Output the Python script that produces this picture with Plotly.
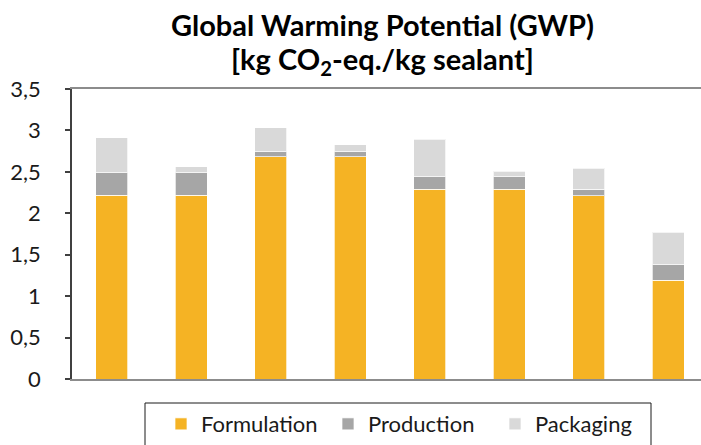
import plotly.graph_objects as go

categories = ["S1", "S2", "S3", "S4", "S5", "S6", "S7", "S8"]
formulation = [2.22, 2.22, 2.68, 2.68, 2.29, 2.29, 2.21, 1.19]
production = [0.27, 0.27, 0.065, 0.065, 0.15, 0.15, 0.08, 0.19]
packaging = [0.42, 0.07, 0.285, 0.085, 0.455, 0.07, 0.255, 0.39]
series_names = ["Formulation", "Production", "Packaging"]
colors = ["#F5B324", "#A6A6A6", "#D9D9D9"]

FONT = "Lato"

fig = go.Figure()
for name, vals, col in zip(series_names, [formulation, production, packaging], colors):
    fig.add_trace(go.Bar(
        x=categories, y=vals, name=name,
        marker=dict(color=col, line=dict(color="rgba(255,255,255,0.7)", width=1)),
    ))

fig.add_annotation(
    text="<b>Global Warming Potential (GWP)</b>",
    xref="paper", yref="paper", x=0.494, y=1.222, xanchor="center", yanchor="middle",
    showarrow=False, font=dict(size=29, family=FONT, color="#000000"),
)
fig.add_annotation(
    text="<b>[kg CO<sub>2</sub>-eq./kg sealant]</b>",
    xref="paper", yref="paper", x=0.494, y=1.098, xanchor="center", yanchor="middle",
    showarrow=False, font=dict(size=29, family=FONT, color="#000000"),
)

# legend frame (Excel-style box, bottom edge runs off the canvas)
fig.add_shape(
    type="rect", xref="paper", yref="paper",
    x0=(145 - 72) / 629, x1=(651 - 72) / 629,
    y0=-0.35, y1=-(403 - 379) / 290,
    line=dict(color="#1a1a1a", width=1), fillcolor="rgba(0,0,0,0)",
)

fig.update_layout(
    width=701, height=445,
    barmode="stack", bargap=0.6,
    separators=",.",
    plot_bgcolor="white", paper_bgcolor="white",
    margin=dict(l=72, r=0, t=89, b=66, autoexpand=False),
    font=dict(family=FONT, color="#1a1a1a"),
    xaxis=dict(
        range=[-0.5, 7.41], showticklabels=False, ticks="",
        showline=True, linecolor="#8c8c8c", linewidth=2, mirror=True,
        showgrid=False, zeroline=False, fixedrange=True,
    ),
    yaxis=dict(
        range=[0, 3.5], dtick=0.5, tick0=0,
        showline=True, linecolor="#404040", linewidth=1.5,
        ticks="outside", ticklen=5, tickcolor="#404040", tickwidth=1.5,
        ticklabelstandoff=20,
        tickfont=dict(size=22, family=FONT, color="#1a1a1a"),
        showgrid=False, zeroline=False,
    ),
    legend=dict(
        orientation="h", x=(161 - 72) / 629, xanchor="left", y=-0.083, yanchor="top",
        borderwidth=0, bgcolor="rgba(0,0,0,0)",
        entrywidth=122, entrywidthmode="pixels",
        font=dict(size=22, family=FONT, color="#1a1a1a"),
        traceorder="normal",
    ),
    showlegend=True,
)

fig.write_html(
    "out.html",
    config={"displayModeBar": False},
    post_script="document.body.style.margin='0';document.body.style.padding='0';",
)
